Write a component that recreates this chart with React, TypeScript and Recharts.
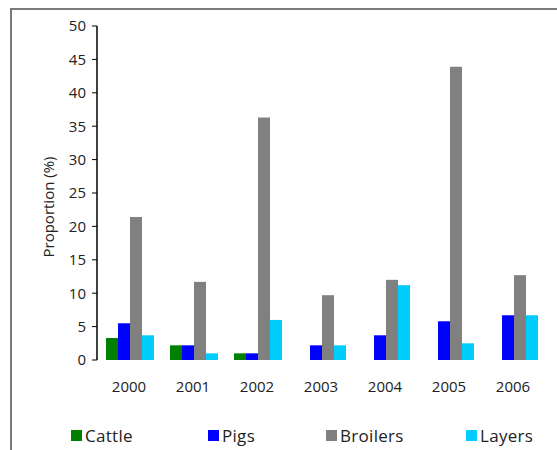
import React from "react";
import { BarChart, Bar, XAxis, YAxis } from "recharts";

const years = ["2000", "2001", "2002", "2003", "2004", "2005", "2006"];
const cattle = [3.3, 2.2, 1.0, 0, 0, 0, 0];
const pigs = [5.5, 2.2, 1.0, 2.2, 3.7, 5.8, 6.7];
const broilers = [21.4, 11.7, 36.3, 9.7, 12.0, 43.9, 12.7];
const layers = [3.7, 1.0, 6.0, 2.2, 11.2, 2.5, 6.7];
const yTicks = [0, 5, 10, 15, 20, 25, 30, 35, 40, 45, 50];
// category boundaries for the x-axis tick marks
const boundaries = [0, 1, 2, 3, 4, 5, 6, 7];

const series = [
    { key: "cattle", name: "Cattle", color: "#008000" },
    { key: "pigs", name: "Pigs", color: "#0000FF" },
    { key: "broilers", name: "Broilers", color: "#808080" },
    { key: "layers", name: "Layers", color: "#00CCFF" },
];

// width of each legend slot
const legendSlots = [137, 118, 140, 80];

const data = years.map((year, i) => ({
    year,
    cattle: cattle[i],
    pigs: pigs[i],
    broilers: broilers[i],
    layers: layers[i],
}));

const FONT = "'Open Sans', sans-serif";
const tickStyle = { fontSize: 15, fill: "#222", fontFamily: FONT };

const YLabel = ({ viewBox }: any) => {
    const x = viewBox.x - 9;
    const y = viewBox.y + viewBox.height / 2 + 14;
    return (
        <text
            x={x}
            y={y}
            transform={`rotate(-90, ${x}, ${y})`}
            textAnchor="middle"
            dominantBaseline="central"
            fontSize={15}
            fontFamily={FONT}
            fill="#222"
        >
            Proportion (%)
        </text>
    );
};

const App = () => {
    return (
        <div
            style={{
                position: "absolute",
                left: 0,
                top: 0,
                width: 557,
                height: 450,
                overflow: "hidden",
                background: "#fff",
            }}
        >
            <div
                style={{
                    position: "absolute",
                    left: 10,
                    top: 8,
                    width: 600,
                    height: 500,
                    borderTop: "2px solid #7a7a7a",
                    borderLeft: "2px solid #7a7a7a",
                }}
            />
            <div style={{ position: "absolute", left: 0, top: 0 }}>
                <BarChart
                    width={557}
                    height={450}
                    data={data}
                    margin={{ top: 26, right: 12, bottom: 60, left: 57 }}
                    barCategoryGap={9}
                    barGap={0}
                >
                    <XAxis
                        xAxisId="frame"
                        type="number"
                        domain={[0, 7]}
                        ticks={boundaries}
                        tick={false}
                        tickSize={5}
                        height={0}
                        axisLine={{ stroke: "#000", strokeWidth: 1.5 }}
                        tickLine={{ stroke: "#000" }}
                    />
                    <XAxis
                        xAxisId="cat"
                        dataKey="year"
                        axisLine={false}
                        tickLine={false}
                        tickSize={0}
                        tickMargin={21}
                        height={30}
                        tick={tickStyle}
                        interval={0}
                    />
                    <YAxis
                        width={40}
                        domain={[0, 50]}
                        ticks={yTicks}
                        interval={0}
                        tickSize={5}
                        tickMargin={6}
                        axisLine={{ stroke: "#000", strokeWidth: 1.5 }}
                        tickLine={{ stroke: "#000" }}
                        tick={tickStyle}
                        label={<YLabel />}
                    />
                    {series.map((s) => (
                        <Bar
                            key={s.key}
                            xAxisId="cat"
                            dataKey={s.key}
                            name={s.name}
                            fill={s.color}
                            isAnimationActive={false}
                        />
                    ))}
                </BarChart>
            </div>
            <div
                style={{
                    position: "absolute",
                    left: 71,
                    top: 424,
                    display: "flex",
                    fontFamily: FONT,
                    fontSize: 17,
                    color: "#222",
                    letterSpacing: 0.3,
                    alignItems: "center",
                }}
            >
                {series.map((s, i) => (
                    <div
                        key={s.key}
                        style={{
                            display: "flex",
                            alignItems: "center",
                            width: legendSlots[i],
                            whiteSpace: "nowrap",
                        }}
                    >
                        <span
                            style={{
                                width: 11,
                                height: 11,
                                background: s.color,
                                marginRight: 3,
                                display: "inline-block",
                                flexShrink: 0,
                            }}
                        />
                        <span>{s.name}</span>
                    </div>
                ))}
            </div>
        </div>
    );
};

export default App;
